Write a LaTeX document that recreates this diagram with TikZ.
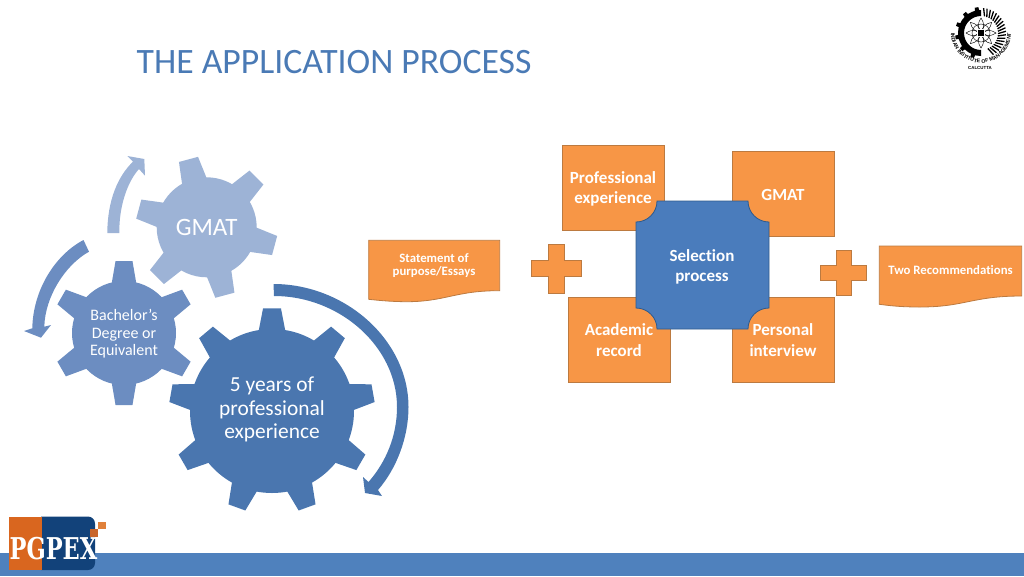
\documentclass[tikz,border=0pt]{standalone}
\usepackage{fontspec}
\setmainfont[Ligatures=NoCommon]{Carlito}
\newfontfamily\pgserif{DejaVu Serif}
\newfontfamily\logosans{Liberation Sans}
\usetikzlibrary{decorations.text}
\definecolor{gearA}{HTML}{9DB3D6}
\definecolor{gearB}{HTML}{6C8DC1}
\definecolor{gearC}{HTML}{4A76AF}
\definecolor{orangeF}{HTML}{F79646}
\definecolor{orangeD}{HTML}{BC7A40}
\definecolor{blueF}{HTML}{4A7CBC}
\definecolor{blueD}{HTML}{2F5A8C}
\definecolor{titleC}{HTML}{4A7AB5}
\definecolor{barC}{HTML}{4F81BD}
\definecolor{logoN}{HTML}{12427A}
\definecolor{logoO}{HTML}{D9661F}
\definecolor{logoS}{HTML}{E0803A}
\definecolor{logoT}{HTML}{C9652A}
\newcommand{\gearfig}[9]{%
  \begin{scope}[shift={(#1,#2)}]
    \fill[#9] (0,0) circle[radius=#3pt];
    \foreach \k in {1,...,#8} {
      \pgfmathsetmacro{\ang}{#7+360/#8*\k}
      \fill[#9] (\ang-#5:#3pt-1pt) -- (\ang-#6:#4pt) -- (\ang+#6:#4pt) -- (\ang+#5:#3pt-1pt) -- cycle;
    }
  \end{scope}}
\tikzset{
  x=1pt,y=-1pt,
  gtext/.style={text=white,align=center,inner sep=0pt},
  obox/.style={draw=orangeD,fill=orangeF,line width=0.8pt,anchor=north west,inner sep=0pt},
  oshape/.style={draw=orangeD,fill=orangeF,line width=0.8pt},
  wbold/.style={text=white,font=\bfseries\fontsize{17}{20.7}\selectfont,align=center,inner sep=0pt},
  wsmall/.style={text=white,font=\bfseries\fontsize{12.8}{12.3}\selectfont,align=center,inner sep=0pt},
}
\begin{document}
\begin{tikzpicture}
\useasboundingbox (0,0) rectangle (1024,576);
% bottom bar
\fill[barC] (0,552.5) rectangle (1024,576);
% title
\node[anchor=west,inner sep=0pt,text=titleC,font=\fontsize{35.7}{38}\selectfont] (title) at (136.5,62) {THE APPLICATION PROCESS};
% gears
\gearfig{206.7}{227.3}{50}{71}{15}{8}{-15}{6}{gearA}
\gearfig{124}{333}{52}{72.5}{14}{6.7}{30}{6}{gearB}
\gearfig{272}{411}{82}{103}{9.5}{5}{10}{9}{gearC}
\node[gtext,font=\fontsize{25}{28}\selectfont] (g1) at (206.7,227.3) {GMAT};
\node[gtext,font=\fontsize{16}{17.5}\selectfont] (g2) at (124,334) {Bachelor’s\\Degree or\\Equivalent};
\node[gtext,font=\fontsize{21.4}{23.5}\selectfont] (g3) at (272,409.5) {5 years of\\professional\\experience};
% curved arrows
\fill[gearA] (107.3,233) .. controls (107.5,200) and (118,176) .. (133,161.7) -- (127.3,156) -- (144.3,159) -- (145,175.7) -- (139,169) .. controls (128,181) and (119,205) .. (119.3,233) -- cycle;
\fill[gearB] (83.5,240) .. controls (55,255) and (33,290) .. (32.3,328.3) -- (24,331) -- (41,337.7) -- (51,325) -- (44.3,326.7) .. controls (45,297) and (65,265) .. (89,251.7) -- cycle;
\fill[gearC] (273.5,284) .. controls (345,284) and (408.5,340) .. (408.5,407) .. controls (408.5,437) and (397,468) .. (378,490) -- (382,496) -- (365,493) -- (363,477) -- (368.5,482) .. controls (386,462) and (397,436) .. (397,407) .. controls (397,347) and (340,296) .. (274,296) -- cycle;
% orange boxes
\node[obox,minimum width=102pt,minimum height=85pt] (b1) at (562,145) {};
\node[obox,minimum width=102pt,minimum height=85pt] (b2) at (732,151) {};
\node[obox,minimum width=102pt,minimum height=85pt] (b3) at (567.5,297) {};
\node[obox,minimum width=102pt,minimum height=85pt] (b4) at (732,297) {};
% plaque
\draw[fill=blueF,draw=blueD,line width=0.8pt] (657,201) -- (748,201) arc[start angle=180,end angle=270,radius=21pt] -- (769,308) arc[start angle=90,end angle=180,radius=21pt] -- (657,329) arc[start angle=0,end angle=90,radius=21pt] -- (636,222) arc[start angle=-90,end angle=0,radius=21pt] -- cycle;
\node[wbold] (t0) at (702,267) {Selection\\process};
\node[wbold] (t1) at (613,189) {Professional\\experience};
\node[wbold] (t2) at (783,194.5) {GMAT};
\node[wbold] (t3) at (619,340) {Academic\\record};
\node[wbold] (t4) at (783,340) {Personal\\interview};
% crosses
\draw[oshape] (548,244) -- (564.7,244) -- (564.7,260.7) -- (581.7,260.7) -- (581.7,276.7) -- (564.7,276.7) -- (564.7,293.7) -- (548,293.7) -- (548,276.7) -- (531,276.7) -- (531,260.7) -- (548,260.7) -- cycle;
\draw[oshape] (836,250) -- (851,250) -- (851,265.3) -- (866.7,265.3) -- (866.7,280) -- (851,280) -- (851,295) -- (836,295) -- (836,280) -- (820,280) -- (820,265.3) -- (836,265.3) -- cycle;
% documents
\draw[oshape] (368.7,240.3) -- (499.7,240.3) -- (499.7,290.7) .. controls (455,290.5) and (445,302) .. (405,301.7) .. controls (390,301.5) and (380,300.5) .. (368.7,299.3) -- cycle;
\draw[oshape] (879.3,246) -- (1021.7,246) -- (1021.7,296) .. controls (972,296) and (965,307) .. (920,307) .. controls (903,307) and (892,306) .. (879.3,304.3) -- cycle;
\node[wsmall] (d1) at (434,265.5) {Statement of\\purpose/Essays};
\node[wsmall] (d2) at (950.5,270.5) {Two Recommendations};
% PGPEX logo
\fill[logoN] (41,516.5) -- (88,516.5) arc[start angle=90,end angle=0,radius=7pt] -- (95,563) arc[start angle=0,end angle=-90,radius=7pt] -- (41,570) -- cycle;
\fill[logoO] (9,516.5) rectangle (41.5,570);
\fill[logoS] (98,522) rectangle (106,529);
\fill[logoT] (90,529) rectangle (98,537);
\node[inner sep=0pt,text=white,font=\pgserif\bfseries\fontsize{30}{30}\selectfont,xscale=0.75] (pg) at (53.5,549) {PGPEX};
% IIM seal
\begin{scope}[shift={(981,33)}]
  \fill[black] (90:23pt) arc[start angle=90,end angle=270,radius=23pt] -- (270:17pt) arc[start angle=270,end angle=90,radius=17pt] -- cycle;
  \foreach \a in {100,130,160,190,220,250}
    \fill[black] (\a-6:22pt) -- (\a-4:26pt) -- (\a+4:26pt) -- (\a+6:22pt) -- cycle;
  \foreach \a in {-66,-58,...,84}
    \draw[black,line width=1.3pt] (\a:17pt) -- (\a+6:25pt);
  \foreach \a in {0,45,...,315}
    \draw[black,line width=0.45pt,rotate=\a] (0,0) .. controls (5pt,3.5pt) and (10pt,3.5pt) .. (15pt,0pt) .. controls (10pt,-3.5pt) and (5pt,-3.5pt) .. (0,0);
  \draw[black,line width=0.4pt] (0,0) circle[radius=9pt];
  \fill[white] (0,0) circle[radius=4.5pt];
  \fill[black] (-2.8pt,-3pt) rectangle (2.8pt,3pt);
  \coordinate (sealL) at (170:30pt);
\end{scope}
\path[postaction={decorate,decoration={text along path,text align=center,text={|\logosans\bfseries\fontsize{5.2}{6}\selectfont|INDIAN INSTITUTE OF MANAGEMENT}}}]
  (sealL) arc[start angle=170,end angle=370,radius=30pt];
\node[inner sep=0pt,font=\logosans\bfseries\fontsize{4.4}{5}\selectfont] (cal) at (980,68) {CALCUTTA};
\end{tikzpicture}
\end{document}
